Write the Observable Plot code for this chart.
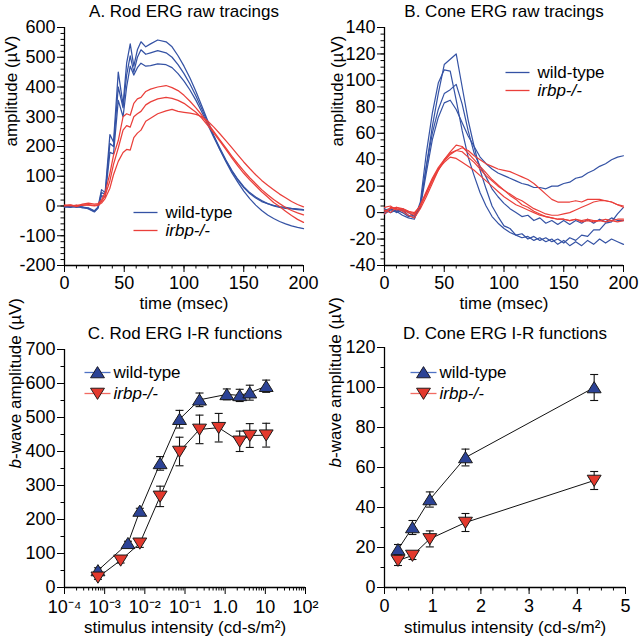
<!DOCTYPE html>
<html><head><meta charset="utf-8">
<script src="https://cdn.jsdelivr.net/npm/d3@7"></script>
<script src="https://cdn.jsdelivr.net/npm/@observablehq/plot@0.6"></script>
<style>
html,body{margin:0;padding:0;background:#fff;overflow:hidden;width:639px;height:639px}
#root{position:relative;width:639px;height:639px}
.panel{position:absolute}
.panel svg{display:block}
</style></head><body><div id="root"></div>
<script>
// ---------- Panel A: rod ERG raw tracings ----------
const rodTime = [0,5,10,15,20,25,28,31,34,38,41,45,49,52,55,58,61,64,68,72,78,85,90,95,100,105,110,115,120,125,130,135,140,145,150,155,160,165,170,175,180,185,190,195,200];
const rodWT1 = [0,-3,2,-4,-6,-16,-4,55,45,240,215,450,340,480,545,470,525,552,535,545,558,552,535,505,470,430,385,335,285,235,190,150,112,80,50,25,3,-15,-30,-42,-52,-60,-67,-72,-76];
const rodWT2 = [-2,-5,0,-6,-8,-18,-6,45,40,210,200,400,330,440,505,450,500,525,510,515,522,515,500,475,445,410,370,325,280,235,195,155,120,90,65,45,30,18,8,0,-5,-8,-10,-12,-14];
const rodWT3 = [-4,-2,-5,-3,-10,-20,-8,35,30,180,175,355,300,400,470,440,465,480,470,472,478,475,465,445,420,390,355,315,272,230,190,152,118,88,62,42,27,15,8,2,-2,-5,-8,-10,-12];
const rodKO1 = [3,4,0,6,10,6,8,20,45,110,170,220,300,310,305,345,360,365,385,393,400,405,398,388,372,352,330,305,278,250,222,195,168,142,118,95,75,55,38,22,8,-5,-15,-23,-30];
const rodKO2 = [2,0,3,2,5,2,5,15,35,85,140,195,255,270,265,300,310,318,340,350,360,365,362,355,345,330,315,295,270,245,218,190,162,135,110,88,68,48,30,12,-2,-18,-32,-45,-55];
const rodKO3 = [0,3,-2,4,3,0,2,10,25,60,105,150,180,190,188,230,245,255,285,295,310,320,325,318,315,312,308,300,285,265,243,220,196,172,148,126,105,86,70,55,40,28,15,5,-3];

// ---------- Panel B: cone ERG raw tracings ----------
const coneTime = [0,5,10,15,20,25,30,35,40,45,50,55,60,65,70,75,80,85,90,95,100,105,110,115,120,125,130,135,140,145,150,155,160,165,170,175,180,185,190,195,200];
const coneWT1 = [2,3,0,2,-2,-4,5,35,65,90,112,116,120,95,70,50,32,18,5,-3,-10,-12,-17,-16,-20,-18,-21,-19,-22,-20,-23,-19,-21,-17,-18,-13,-13,-8,-7,-1,4];
const coneWT2 = [-1,2,1,-2,-4,-5,8,45,75,98,108,107,85,62,42,28,15,5,-3,-8,-12,-15,-17,-19,-18,-21,-19,-22,-20,-24,-21,-25,-22,-25,-21,-24,-20,-23,-20,-22,-24];
const coneWT3 = [3,0,2,0,-3,-2,6,35,60,78,90,93,97,82,62,45,35,27,18,12,7,3,0,-3,-2,-6,-4,-8,-6,-9,-6,-9,-6,-8,-5,-8,-5,-7,-4,-6,-6];
const coneWT4 = [0,3,1,3,0,-3,4,30,55,72,83,85,78,68,58,50,42,37,33,30,28,26,24,22,21,19,19,18,20,20,22,23,26,27,30,32,35,37,40,42,43];
const coneKO1 = [-1,4,3,1,-2,-4,3,12,22,32,40,46,51,50,45,40,35,30,25,21,17,13,10,6,4,1,-1,-3,-4,-5,-5,-6,-5,-7,-6,-7,-6,-7,-6,-7,-6];
const coneKO2 = [4,5,2,3,1,0,5,14,24,32,39,44,47,49,47,43,40,37,35,33,32,31,29,27,25,22,18,14,10,8,8,8,9,8,10,10,10,9,8,6,4];
const coneKO3 = [2,0,4,2,0,-2,6,16,26,34,40,45,47,46,42,38,33,28,24,20,17,14,11,9,6,3,1,-1,-2,-2,-1,0,2,4,6,8,9,9,8,6,5];
const coneKO4 = [1,3,4,3,1,-1,5,15,25,33,38,42,41,38,35,32,28,24,20,16,12,9,6,4,2,0,-2,-3,-4,-5,-5,-6,-5,-6,-5,-6,-6,-5,-6,-5,-5];

// ---------- Panel C: rod I-R ----------
const rodIntensityWT = [0.00068,0.0038,0.0075,0.024,0.073,0.23,1.1,2.3,4.1,10.5];
const rodBwaveWT     = [50,130,225,365,495,552,568,565,573,592];
const rodErrWT       = [8,6,8,20,26,20,16,18,22,18];
const rodIntensityKO = [0.00068,0.0025,0.0075,0.024,0.073,0.23,0.69,2.3,4.1,10.5];
const rodBwaveKO     = [30,80,130,268,400,465,470,430,447,448];
const rodErrKO       = [6,8,12,30,42,42,42,30,35,35];

// ---------- Panel D: cone I-R ----------
const coneIntensity = [0.28,0.58,0.94,1.68,4.35];
const coneBwaveWT   = [19,30,44,65,100];
const coneErrWT     = [2.5,3.5,3.8,4.2,6.5];
const coneBwaveKO   = [13.5,16,24.3,32.5,53.5];
const coneErrKO     = [2.5,2,4,4.5,4.5];

// ---------- labels / ticks ----------
const seriesNames = ["wild-type","irbp-/-"];
const panelTitles = ["A. Rod ERG raw tracings","B. Cone ERG raw tracings","C. Rod ERG I-R functions","D. Cone ERG I-R functions"];
const timeTicks = [0,50,100,150,200];
const rodAmpTicks = [-200,-100,0,100,200,300,400,500,600];
const coneAmpTicks = [-40,-20,0,20,40,60,80,100,120,140];
const rodBTicks = [0,100,200,300,400,500,600,700];
const coneBTicks = [0,20,40,60,80,100,120];
const intensityLogTicks = [1e-4,1e-3,1e-2,1e-1,1,10,100];
const intensityLogLabels = ["10\u207B\u2074","10\u207B\u00B3","10\u207B\u00B2","10\u207B\u00B9","1.0","10","10\u00B2"];
const intensityLinTicks = [0,1,2,3,4,5];

// ---------- styling ----------
const FONT = '"Liberation Sans", Arial, Helvetica, sans-serif';
const BLUE = "#3452A4", RED = "#EA3F3A";
const TRI_BLUE = "#2C4396", TRI_RED = "#E3392D";
const LEG_BLUE = "#4F72C4", LEG_RED = "#F26B62";
const FS = 17, TFS = 18;

const segment = (len) => ({draw(ctx){ ctx.moveTo(-len/2,0); ctx.lineTo(len/2,0); }});
const triUp = {draw(ctx,size){ const r=Math.sqrt(size/Math.PI); ctx.moveTo(0,-r*0.95); ctx.lineTo(r*1.12,r*0.85); ctx.lineTo(-r*1.12,r*0.85); ctx.closePath(); }};
const triDown = {draw(ctx,size){ const r=Math.sqrt(size/Math.PI); ctx.moveTo(0,r*0.95); ctx.lineTo(r*1.12,-r*0.85); ctx.lineTo(-r*1.12,-r*0.85); ctx.closePath(); }};

const style = {fontFamily: FONT, fontSize: FS + "px", color: "#000", background: "transparent", overflow: "visible"};
const numFmt = d => String(d);

function axisMarks({xMajor, xMinor, yMajor, yMinor, xFormat = numFmt, yFormat = numFmt, xDomainMin, yDomainMin, xPad = 4}) {
  return [
    Plot.axisY(yMinor, {tickSize: 3.5, tickFormat: () => "", label: null, strokeWidth: 1}),
    Plot.axisY(yMajor, {tickSize: 7, tickPadding: 2, fontSize: TFS, label: null, tickFormat: yFormat, strokeWidth: 1}),
    Plot.axisX(xMinor, {tickSize: 3.5, tickFormat: () => "", label: null, strokeWidth: 1}),
    Plot.axisX(xMajor, {tickSize: 7, tickPadding: xPad, fontSize: TFS, label: null, tickFormat: xFormat, strokeWidth: 1}),
    Plot.ruleX([xDomainMin], {strokeWidth: 1.3}),
    Plot.ruleY([yDomainMin], {strokeWidth: 1.3})
  ];
}
function textMarks({title, titleDy, xLabel, xLabelDy, yLabel, yLabelDx}) {
  return [
    Plot.text([title], {text: d => d, frameAnchor: "top", dy: titleDy, lineAnchor: "middle", fontSize: FS}),
    Plot.text([xLabel], {text: d => d, frameAnchor: "bottom", dy: xLabelDy, lineAnchor: "middle", fontSize: FS}),
    Plot.text([yLabel], {text: d => d, frameAnchor: "left", rotate: -90, dx: yLabelDx, lineAnchor: "middle", fontSize: FS})
  ];
}
function long(time, arrays) {
  return arrays.flatMap((vals, k) => vals.map((v, i) => ({t: time[i], v, trace: k})));
}
function lineLegend(dx, dy) {
  return [
    Plot.dot([0], {frameAnchor: "top-left", dx, dy, symbol: segment(24), stroke: BLUE, strokeWidth: 1.3, fill: "none"}),
    Plot.dot([0], {frameAnchor: "top-left", dx, dy: dy + 18, symbol: segment(24), stroke: RED, strokeWidth: 1.3, fill: "none"}),
    Plot.text([seriesNames[0]], {text: d => d, frameAnchor: "top-left", dx: dx + 20, dy, textAnchor: "start", lineAnchor: "middle", fontSize: FS}),
    Plot.text([seriesNames[1]], {text: d => d, frameAnchor: "top-left", dx: dx + 20, dy: dy + 18, textAnchor: "start", lineAnchor: "middle", fontSize: FS, fontStyle: "italic"})
  ];
}
function markerLegend(dx, dy) {
  return [
    Plot.dot([0], {frameAnchor: "top-left", dx, dy, symbol: segment(26), stroke: LEG_BLUE, strokeWidth: 1.3, fill: "none"}),
    Plot.dot([0], {frameAnchor: "top-left", dx, dy, symbol: triUp, r: 6.2, fill: TRI_BLUE, stroke: "#1b1b2a", strokeWidth: 1}),
    Plot.dot([0], {frameAnchor: "top-left", dx, dy: dy + 21, symbol: segment(26), stroke: LEG_RED, strokeWidth: 1.3, fill: "none"}),
    Plot.dot([0], {frameAnchor: "top-left", dx, dy: dy + 21, symbol: triDown, r: 6.2, fill: TRI_RED, stroke: "#2a1b1b", strokeWidth: 1}),
    Plot.text([seriesNames[0]], {text: d => d, frameAnchor: "top-left", dx: dx + 16, dy, textAnchor: "start", lineAnchor: "middle", fontSize: FS}),
    Plot.text([seriesNames[1]], {text: d => d, frameAnchor: "top-left", dx: dx + 16, dy: dy + 21, textAnchor: "start", lineAnchor: "middle", fontSize: FS, fontStyle: "italic"})
  ];
}
function irMarks(xs, ys, es, fill, sym) {
  const data = xs.map((x, i) => ({x, y: ys[i], e: es[i]}));
  return [
    Plot.ruleX(data, {x: "x", y1: d => d.y - d.e, y2: d => d.y + d.e, stroke: "#111", strokeWidth: 1.1}),
    Plot.dot(data, {x: "x", y: d => d.y + d.e, symbol: segment(8), stroke: "#111", strokeWidth: 1.1, fill: "none"}),
    Plot.dot(data, {x: "x", y: d => d.y - d.e, symbol: segment(8), stroke: "#111", strokeWidth: 1.1, fill: "none"}),
    Plot.line(data, {x: "x", y: "y", stroke: "#111", strokeWidth: 1}),
    Plot.dot(data, {x: "x", y: "y", symbol: sym, r: 6.2, fill, stroke: "#1b1b1b", strokeWidth: 1})
  ];
}
function place(svg, left, top) {
  const d = document.createElement("div");
  d.className = "panel"; d.style.left = left + "px"; d.style.top = top + "px";
  d.appendChild(svg);
  document.getElementById("root").appendChild(d);
}

// Panel A
const svgA = Plot.plot({
  width: 320, height: 320, marginLeft: 64, marginRight: 17, marginTop: 27, marginBottom: 55, style,
  x: {type: "linear", domain: [0, 200]},
  y: {type: "linear", domain: [-200, 600]},
  marks: [
    ...axisMarks({xMajor: timeTicks, xMinor: d3.range(0, 201, 10), yMajor: rodAmpTicks, yMinor: d3.range(-200, 601, 20), xDomainMin: 0, yDomainMin: -200}),
    Plot.line(long(rodTime, [rodWT1, rodWT2, rodWT3]), {x: "t", y: "v", z: "trace", stroke: BLUE, strokeWidth: 1.25}),
    Plot.line(long(rodTime, [rodKO1, rodKO2, rodKO3]), {x: "t", y: "v", z: "trace", stroke: RED, strokeWidth: 1.25}),
    ...lineLegend(81, 185),
    ...textMarks({title: panelTitles[0], titleDy: -16, xLabel: "time (msec)", xLabelDy: 38, yLabel: "amplitude (µV)", yLabelDx: -53})
  ]
});
place(svgA, 0, 0);

// Panel B
const svgB = Plot.plot({
  width: 319, height: 320, marginLeft: 64, marginRight: 16, marginTop: 27, marginBottom: 55, style,
  x: {type: "linear", domain: [0, 200]},
  y: {type: "linear", domain: [-40, 140]},
  marks: [
    ...axisMarks({xMajor: timeTicks, xMinor: d3.range(0, 201, 10), yMajor: coneAmpTicks, yMinor: d3.range(-40, 141, 5), xDomainMin: 0, yDomainMin: -40}),
    Plot.line(long(coneTime, [coneWT1, coneWT2, coneWT3, coneWT4]), {x: "t", y: "v", z: "trace", stroke: BLUE, strokeWidth: 1.2}),
    Plot.line(long(coneTime, [coneKO1, coneKO2, coneKO3, coneKO4]), {x: "t", y: "v", z: "trace", stroke: RED, strokeWidth: 1.2}),
    ...lineLegend(133, 45),
    ...textMarks({title: panelTitles[1], titleDy: -16, xLabel: "time (msec)", xLabelDy: 38, yLabel: "amplitude (µV)", yLabelDx: -47})
  ]
});
place(svgB, 320, 0);

// Panel C
const logMinor = intensityLogTicks.slice(0, -1).flatMap(d => d3.range(2, 10).map(k => k * d));
const svgC = Plot.plot({
  width: 320, height: 319, marginLeft: 64, marginRight: 15, marginTop: 29, marginBottom: 52, style,
  x: {type: "log", domain: [1e-4, 100]},
  y: {type: "linear", domain: [0, 700]},
  marks: [
    ...axisMarks({xMajor: intensityLogTicks, xMinor: logMinor, yMajor: rodBTicks, yMinor: d3.range(0, 701, 50), xPad: 6,
      xFormat: d => intensityLogLabels[intensityLogTicks.findIndex(t => Math.abs(Math.log10(t) - Math.log10(d)) < 1e-6)], xDomainMin: 1e-4, yDomainMin: 0}),
    ...irMarks(rodIntensityWT, rodBwaveWT, rodErrWT, TRI_BLUE, triUp),
    ...irMarks(rodIntensityKO, rodBwaveKO, rodErrKO, TRI_RED, triDown),
    ...markerLegend(33, 23),
    ...textMarks({title: panelTitles[2], titleDy: -16, xLabel: "stimulus intensity (cd-s/m²)", xLabelDy: 40, yLabel: "b-wave amplitude (µV)", yLabelDx: -49})
  ]
});
place(svgC, 0, 320);

// Panel D
const svgD = Plot.plot({
  width: 319, height: 319, marginLeft: 64, marginRight: 14, marginTop: 27, marginBottom: 52, style,
  x: {type: "linear", domain: [0, 5]},
  y: {type: "linear", domain: [0, 120]},
  marks: [
    ...axisMarks({xMajor: intensityLinTicks, xMinor: d3.range(0, 5.01, 0.25), yMajor: coneBTicks, yMinor: d3.range(0, 121, 10), xPad: 5, xDomainMin: 0, yDomainMin: 0}),
    ...irMarks(coneIntensity, coneBwaveWT, coneErrWT, TRI_BLUE, triUp),
    ...irMarks(coneIntensity, coneBwaveKO, coneErrKO, TRI_RED, triDown),
    ...markerLegend(39, 25),
    ...textMarks({title: panelTitles[3], titleDy: -14, xLabel: "stimulus intensity (cd-s/m²)", xLabelDy: 40, yLabel: "b-wave amplitude (µV)", yLabelDx: -49})
  ]
});
place(svgD, 320, 320);

// italic "b" in b-wave labels
const NS = "http://www.w3.org/2000/svg";
for (const svg of [svgC, svgD]) {
  for (const t of svg.querySelectorAll("text")) {
    if (t.textContent === "b-wave amplitude (µV)") {
      t.textContent = "";
      const a = document.createElementNS(NS, "tspan"); a.setAttribute("font-style", "italic"); a.textContent = "b";
      const b = document.createElementNS(NS, "tspan"); b.textContent = "-wave amplitude (µV)";
      t.appendChild(a); t.appendChild(b);
    }
  }
}
</script></body></html>
